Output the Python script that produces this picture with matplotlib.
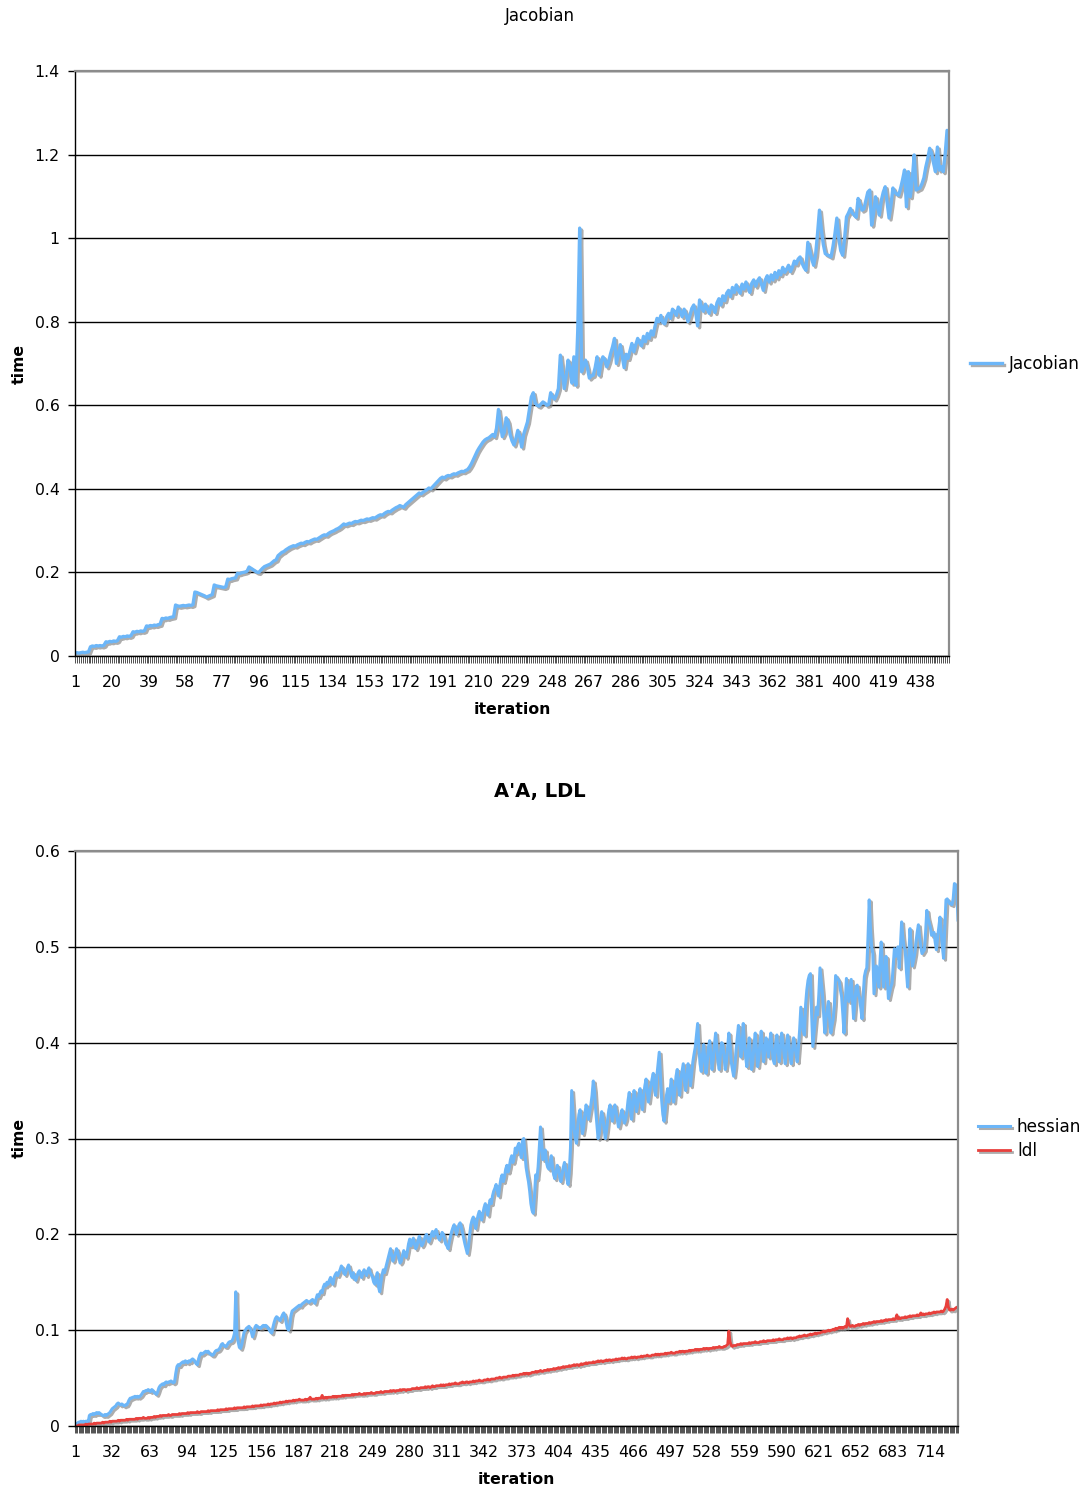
import matplotlib
matplotlib.use('Agg')
import matplotlib.pyplot as plt
import matplotlib.patheffects as pe
from matplotlib.ticker import MultipleLocator, FixedLocator, FuncFormatter

# times, in milliseconds (one value per iteration)
jacobian_ms = [
    7, 8, 7, 8, 9, 8, 9, 10,
    22, 24, 23, 25, 24, 25, 24, 26,
    34, 33, 35, 34, 36, 35, 37,
    46, 45, 47, 46, 48, 47, 49,
    58, 57, 59, 58, 60, 59, 61,
    72, 71, 73, 72, 74, 73, 75, 76,
    90, 89, 91, 90, 92, 93, 94,
    122, 120, 119, 120, 121, 120, 121, 122, 121, 123,
    153, 152, 150, 148, 146, 144,
    141, 143, 145, 147,
    170, 168, 167, 166, 165, 164, 166,
    184, 183, 185, 186, 187,
    198, 197, 199, 200, 201, 203,
    213, 210, 207, 204, 201, 200,
    205, 210, 214, 216, 218,
    220, 224, 228, 230,
    240, 244, 248, 250, 254, 257, 260,
    262, 264, 263, 266, 268, 270, 269, 272, 274, 273, 276, 278, 280, 279, 282, 285,
    288, 290, 289, 293, 296, 298, 300, 303, 305, 308, 312, 316,
    314, 316, 318, 317, 320, 322, 321, 323, 325, 324, 326, 328, 327, 329, 331, 330,
    333, 336, 338, 337, 341, 344, 346, 345, 349, 352, 355, 357, 360,
    358, 356, 362, 366, 370, 374, 378, 382, 386, 390,
    388, 392, 395, 398, 402, 400, 405, 410, 415, 420, 425,
    428, 426, 430, 432, 431, 434, 436, 435, 438, 440, 442, 441, 444, 446,
    452, 460, 470, 480, 490, 498, 505, 512, 517, 520, 522,
    526, 530, 525, 545, 590, 555, 525, 535, 570, 560,
    530, 515, 505, 520, 540, 525, 500, 530, 545, 560, 590, 620, 630, 605, 600,
    598, 603, 608, 605, 600, 602, 630, 620, 615, 625, 640,
    720, 680, 640, 670, 708, 690, 653, 716, 648, 778, 1024,
    680, 695, 708, 690, 665, 670, 672, 690, 716, 672, 700, 716, 710, 692, 705, 724, 740, 760,
    700, 722, 745, 718, 690, 722, 712, 730, 748, 728, 745, 760, 750, 742, 765, 752, 772, 760, 778, 768,
    790, 808, 800, 815, 798, 795, 812, 820, 808, 830, 825, 815, 835, 825, 812, 830, 818, 800, 815, 832,
    840, 822, 790, 852, 835, 825, 842, 830, 820, 840,
    835, 822, 845, 855, 840, 862, 850, 868, 875, 860, 882, 870, 888, 876, 868,
    890, 878, 895, 882, 870, 892, 900, 885, 898, 905, 890, 875, 900, 910, 895,
    912, 900, 918, 905, 922, 912, 930, 918, 925, 935, 920, 930, 945, 938, 950,
    955, 940, 930, 923, 990, 970, 950, 935, 960, 1010, 1067, 1020, 985, 963, 960, 958, 955,
    980, 1010, 1048, 1000, 970, 959, 1000, 1051, 1060, 1071, 1060, 1055, 1050, 1095, 1080, 1067, 1070, 1090,
    1110, 1115, 1031, 1060, 1099, 1075, 1055, 1090, 1110, 1123, 1085, 1048, 1080, 1120, 1110,
    1105, 1103, 1120, 1140, 1163, 1075, 1159, 1099, 1140, 1199, 1115, 1118, 1120, 1130, 1144,
    1170, 1190, 1215, 1203, 1180, 1159, 1218, 1163, 1171, 1159, 1200, 1258, 1215,
]

hessian_ms = [
    1, 2, 3, 4, 4, 5, 4, 5, 4, 5,
    5, 4, 11, 12, 12, 13, 12, 13, 14, 13,
    14, 13, 12, 11, 11, 12, 11, 12, 13, 14,
    16, 18, 19, 20, 21, 23, 24, 23, 22, 23,
    22, 21, 22, 22, 24, 27, 29, 29, 30, 30,
    31, 30, 31, 30, 31, 32, 34, 36, 36, 37,
    37, 38, 37, 36, 38, 37, 35, 34, 33, 36,
    40, 42, 43, 44, 43, 45, 46, 45, 46, 46,
    47, 46, 45, 46, 55, 62, 64, 63, 65, 66,
    67, 66, 68, 67, 66, 68, 67, 69, 70, 69,
    67, 65, 64, 70, 74, 76, 75, 76, 77, 78,
    77, 78, 76, 75, 74, 74, 76, 78, 79, 79,
    80, 82, 85, 86, 84, 83, 83, 85, 87, 88,
    88, 89, 92, 97, 140, 95, 88, 82, 81, 85,
    92, 98, 100, 102, 103, 104, 102, 98, 93, 97,
    103, 105, 104, 103, 102, 102, 104, 105, 104, 105,
    104, 102, 100, 98, 97, 103, 108, 112, 114, 113,
    111, 110, 113, 116, 118, 115, 108, 102, 100, 105,
    115, 120, 121, 122, 123, 124, 125, 126, 125, 127,
    128, 129, 130, 131, 130, 129, 130, 131, 132, 130,
    128, 133, 137, 135, 138, 141, 139, 145, 148, 146,
    150, 148, 152, 155, 150, 148, 155, 158, 160, 157,
    160, 163, 167, 165, 160, 158, 162, 165, 168, 163,
    158, 155, 160, 154, 152, 156, 160, 162, 158, 155,
    160, 163, 160, 157, 162, 165, 160, 158, 155, 150,
    148, 155, 160, 145, 140, 150, 158, 163, 160, 165,
    170, 175, 180, 185, 178, 172, 176, 180, 185, 182,
    175, 170, 172, 178, 183, 180, 176, 182, 190, 195,
    188, 192, 196, 190, 185, 188, 194, 198, 192, 188,
    190, 194, 198, 200, 196, 192, 195, 200, 203, 198,
    202, 205, 200, 196, 194, 198, 202, 200, 195, 190,
    188, 185, 192, 198, 203, 207, 210, 206, 200, 205,
    210, 212, 208, 202, 196, 190, 185, 180, 188, 200,
    210, 215, 218, 212, 206, 214, 220, 224, 218, 215,
    222, 228, 232, 226, 220, 230, 236, 232, 240, 245,
    248, 252, 246, 240, 250, 258, 262, 255, 260, 268,
    272, 265, 270, 278, 282, 275, 280, 290, 285, 292,
    295, 288, 280, 298, 300, 285, 270, 262, 255, 245,
    232, 225, 222, 240, 262, 258, 270, 290, 312, 295,
    278, 282, 288, 275, 270, 268, 276, 282, 270, 262,
    258, 265, 272, 268, 260, 255, 262, 270, 275, 268,
    258, 252, 265, 290, 350, 330, 310, 300, 295, 312,
    325, 330, 318, 305, 312, 325, 335, 330, 320, 328,
    335, 345, 360, 350, 330, 315, 300, 305, 318, 328,
    322, 310, 300, 308, 320, 330, 335, 325, 318, 330,
    335, 328, 320, 312, 318, 325, 330, 322, 316, 320,
    328, 340, 348, 330, 320, 338, 350, 342, 328, 335,
    345, 352, 338, 330, 345, 355, 362, 350, 338, 348,
    355, 362, 368, 352, 345, 365, 378, 390, 365, 340,
    325, 318, 330, 345, 352, 338, 350, 362, 348, 338,
    350, 365, 372, 355, 345, 362, 370, 378, 360, 350,
    365, 378, 370, 355, 368, 380, 388, 395, 408, 420,
    395, 378, 370, 388, 398, 382, 368, 380, 395, 402,
    388, 372, 382, 398, 410, 395, 380, 372, 388, 400,
    398, 385, 372, 380, 395, 410, 398, 380, 372, 365,
    375, 392, 405, 418, 400, 385, 395, 420, 400, 385,
    375, 392, 405, 388, 372, 380, 398, 410, 392, 375,
    385, 400, 412, 395, 380, 392, 405, 398, 385, 400,
    410, 395, 382, 378, 398, 408, 392, 380, 395, 410,
    402, 388, 378, 395, 408, 400, 385, 378, 392, 405,
    398, 388, 380, 395, 413, 437, 425, 412, 408, 440,
    455, 465, 470, 472, 430, 396, 410, 425, 437, 429,
    450, 478, 465, 451, 430, 410, 425, 435, 443, 425,
    410, 418, 425, 440, 470, 468, 466, 464, 455, 448,
    430, 410, 440, 467, 455, 443, 455, 466, 445, 425,
    440, 458, 460, 450, 446, 436, 425, 450, 469, 475,
    478, 510, 549, 520, 500, 493, 451, 465, 480, 470,
    458, 485, 505, 480, 458, 470, 490, 470, 446, 452,
    458, 462, 480, 498, 490, 495, 500, 478, 500, 526,
    510, 500, 497, 475, 458, 490, 519, 500, 480, 486,
    493, 505, 515, 523, 510, 500, 493, 495, 497, 515,
    538, 530, 525, 520, 512, 514, 515, 505, 497, 510,
    520, 531, 515, 500, 488, 520, 549, 550, 548, 545,
    545, 544, 550, 566, 565, 560, 528,
]

ldl_ms = [
    0, 0, 0, 1, 1, 1, 1, 1, 1, 2,
    1, 2, 2, 2, 2, 2, 3, 2, 3, 3,
    3, 3, 3, 4, 3, 4, 4, 4, 4, 5,
    4, 5, 5, 5, 5, 5, 6, 5, 6, 6,
    6, 6, 6, 7, 6, 7, 7, 7, 7, 7,
    7, 8, 7, 8, 8, 8, 8, 9, 8, 8,
    8, 9, 8, 9, 9, 9, 10, 9, 10, 10,
    10, 11, 10, 11, 11, 11, 11, 11, 12, 11,
    11, 12, 12, 12, 12, 12, 12, 13, 12, 13,
    13, 13, 13, 13, 14, 13, 14, 14, 14, 14,
    14, 14, 15, 14, 14, 15, 15, 15, 15, 15,
    15, 16, 15, 16, 16, 16, 16, 16, 16, 17,
    16, 17, 17, 17, 17, 17, 18, 17, 18, 18,
    18, 18, 18, 19, 18, 19, 19, 19, 19, 19,
    19, 20, 19, 20, 20, 20, 20, 20, 21, 20,
    21, 21, 21, 21, 21, 22, 21, 22, 22, 22,
    22, 23, 22, 23, 23, 23, 24, 23, 24, 24,
    24, 25, 24, 25, 25, 25, 26, 25, 26, 26,
    26, 26, 27, 26, 27, 27, 27, 28, 27, 27,
    27, 27, 28, 27, 28, 28, 30, 28, 28, 28,
    28, 29, 28, 29, 29, 29, 32, 29, 29, 30,
    29, 30, 30, 30, 30, 31, 30, 31, 30, 31,
    31, 31, 31, 32, 31, 32, 32, 32, 32, 32,
    32, 33, 32, 33, 33, 33, 33, 34, 33, 33,
    33, 34, 33, 34, 34, 34, 34, 35, 34, 34,
    34, 35, 35, 35, 35, 36, 35, 35, 36, 36,
    36, 36, 36, 37, 36, 37, 37, 36, 37, 37,
    37, 38, 37, 38, 38, 38, 37, 38, 38, 38,
    38, 39, 39, 39, 39, 40, 39, 39, 40, 40,
    40, 40, 41, 40, 41, 41, 40, 41, 42, 41,
    41, 42, 42, 42, 42, 43, 42, 43, 42, 43,
    43, 43, 44, 43, 44, 44, 44, 45, 44, 44,
    44, 45, 45, 46, 45, 45, 46, 46, 45, 46,
    46, 46, 47, 46, 47, 47, 47, 48, 47, 47,
    47, 48, 48, 48, 49, 48, 48, 49, 49, 49,
    49, 50, 50, 50, 51, 50, 50, 51, 51, 51,
    51, 52, 52, 52, 52, 53, 52, 53, 53, 53,
    53, 54, 54, 54, 55, 54, 55, 55, 54, 55,
    55, 56, 56, 56, 57, 56, 57, 57, 58, 57,
    57, 58, 58, 58, 59, 58, 59, 59, 59, 60,
    59, 60, 60, 61, 60, 61, 61, 62, 61, 62,
    62, 62, 63, 62, 63, 63, 64, 63, 64, 64,
    63, 64, 65, 64, 65, 65, 66, 65, 66, 66,
    66, 66, 67, 66, 67, 67, 68, 67, 68, 68,
    67, 68, 68, 69, 68, 69, 69, 68, 69, 69,
    69, 70, 69, 70, 70, 70, 71, 70, 71, 70,
    70, 71, 71, 71, 72, 71, 72, 72, 71, 72,
    72, 72, 73, 72, 73, 73, 73, 74, 73, 73,
    73, 74, 74, 74, 75, 74, 75, 74, 75, 75,
    75, 75, 76, 75, 76, 76, 76, 77, 76, 76,
    76, 77, 77, 77, 78, 77, 78, 78, 77, 78,
    78, 78, 79, 78, 79, 79, 79, 80, 79, 80,
    79, 80, 80, 80, 81, 80, 81, 81, 80, 81,
    81, 81, 82, 81, 82, 82, 82, 83, 82, 82,
    82, 83, 83, 84, 85, 99, 88, 84, 83, 84,
    84, 84, 85, 85, 85, 86, 85, 86, 86, 86,
    86, 86, 87, 86, 87, 87, 87, 88, 87, 87,
    87, 88, 88, 88, 89, 88, 88, 89, 89, 89,
    89, 89, 90, 89, 90, 90, 90, 91, 90, 90,
    90, 91, 91, 91, 92, 91, 92, 92, 91, 92,
    92, 92, 93, 93, 94, 93, 94, 94, 95, 94,
    94, 95, 95, 96, 95, 96, 96, 97, 96, 97,
    97, 97, 98, 98, 99, 98, 99, 99, 100, 99,
    100, 100, 101, 100, 102, 101, 102, 103, 102, 103,
    102, 103, 104, 103, 112, 106, 104, 104, 105, 104,
    104, 105, 105, 106, 105, 106, 106, 107, 106, 107,
    107, 107, 108, 107, 108, 108, 109, 108, 109, 109,
    109, 109, 110, 109, 110, 110, 111, 110, 111, 111,
    111, 111, 112, 111, 112, 116, 112, 113, 112, 113,
    113, 113, 114, 113, 114, 114, 115, 114, 115, 115,
    115, 115, 116, 115, 116, 118, 116, 117, 116, 117,
    117, 117, 118, 117, 118, 118, 119, 118, 119, 119,
    119, 119, 120, 119, 120, 122, 125, 132, 124, 121,
    121, 122, 121, 122, 123, 124, 123,
]

BLUE = '#6cb6f8'
RED = '#e8403c'
FS = 11.3


def shadowed():
    return [pe.SimpleLineShadow(offset=(1.4, -1.4), shadow_color='#8a8a8a', alpha=0.7),
            pe.Normal()]


def style_axes(ax, n, label_step, ymax, ystep):
    ax.set_xlim(1, n)
    ax.set_ylim(0, ymax)
    ax.xaxis.set_major_locator(FixedLocator(list(range(1, n + 1, label_step))))
    ax.xaxis.set_minor_locator(MultipleLocator(1))
    ax.yaxis.set_major_locator(MultipleLocator(ystep))
    ax.yaxis.set_major_formatter(FuncFormatter(lambda v, _: f'{v:g}'))
    ax.tick_params(axis='x', which='both', direction='out', length=5, width=0.7,
                   color='#505050', pad=9, labelsize=FS)
    ax.tick_params(axis='y', direction='out', length=5, width=1, color='black',
                   pad=6, labelsize=FS)
    ax.yaxis.grid(True, color='black', linewidth=1)
    ax.set_axisbelow(True)
    for side in ('top', 'right'):
        ax.spines[side].set_color('#8c8c8c')
        ax.spines[side].set_linewidth(1.6)
    for side in ('left', 'bottom'):
        ax.spines[side].set_color('black')
        ax.spines[side].set_linewidth(1.0)
    ax.set_xlabel('iteration', fontsize=FS, fontweight='bold')
    ax.set_ylabel('time', fontsize=FS, fontweight='bold')


fig = plt.figure(figsize=(10.83, 14.87), dpi=100)

# top chart: Jacobian
ax1 = fig.add_axes([75 / 1083, 1 - 656 / 1487, 874 / 1083, 585 / 1487])
it1 = list(range(1, len(jacobian_ms) + 1))
ax1.plot(it1, [v / 1000 for v in jacobian_ms], color=BLUE, lw=2.4,
         label='Jacobian', path_effects=shadowed())
style_axes(ax1, len(jacobian_ms), 19, 1.4, 0.2)
ax1.xaxis.set_label_coords(0.5, -46 / 585)
ax1.yaxis.set_label_coords(-48 / 874, 0.5)
ax1.legend(loc='center left', bbox_to_anchor=(970 / 1083, 1 - 364 / 1487),
           bbox_transform=fig.transFigure, frameon=False, fontsize=12.2,
           handlelength=1.9, handletextpad=0.4, borderpad=0, borderaxespad=0)
fig.text(540 / 1083, 1 - 16 / 1487, 'Jacobian', ha='center', va='center', fontsize=12)

# bottom chart: A'A, LDL
ax2 = fig.add_axes([75 / 1083, 1 - 1426 / 1487, 883 / 1083, 575 / 1487])
it2 = list(range(1, len(hessian_ms) + 1))
ax2.plot(it2, [v / 1000 for v in hessian_ms], color=BLUE, lw=2.2,
         label='hessian', path_effects=shadowed())
ax2.plot(it2, [v / 1000 for v in ldl_ms], color=RED, lw=2.0,
         label='ldl', path_effects=shadowed())
style_axes(ax2, len(hessian_ms), 31, 0.6, 0.1)
ax2.xaxis.set_label_coords(0.5, -46 / 575)
ax2.yaxis.set_label_coords(-48 / 883, 0.5)
ax2.legend(loc='center left', bbox_to_anchor=(978 / 1083, 1 - 1139 / 1487),
           bbox_transform=fig.transFigure, frameon=False, fontsize=12.2,
           handlelength=1.9, handletextpad=0.4, borderpad=0, borderaxespad=0,
           labelspacing=0.4)
fig.text(540 / 1083, 1 - 791 / 1487, "A'A, LDL", ha='center', va='center',
         fontsize=14, fontweight='bold')

fig.savefig('out.png', dpi=100)
plt.close(fig)
